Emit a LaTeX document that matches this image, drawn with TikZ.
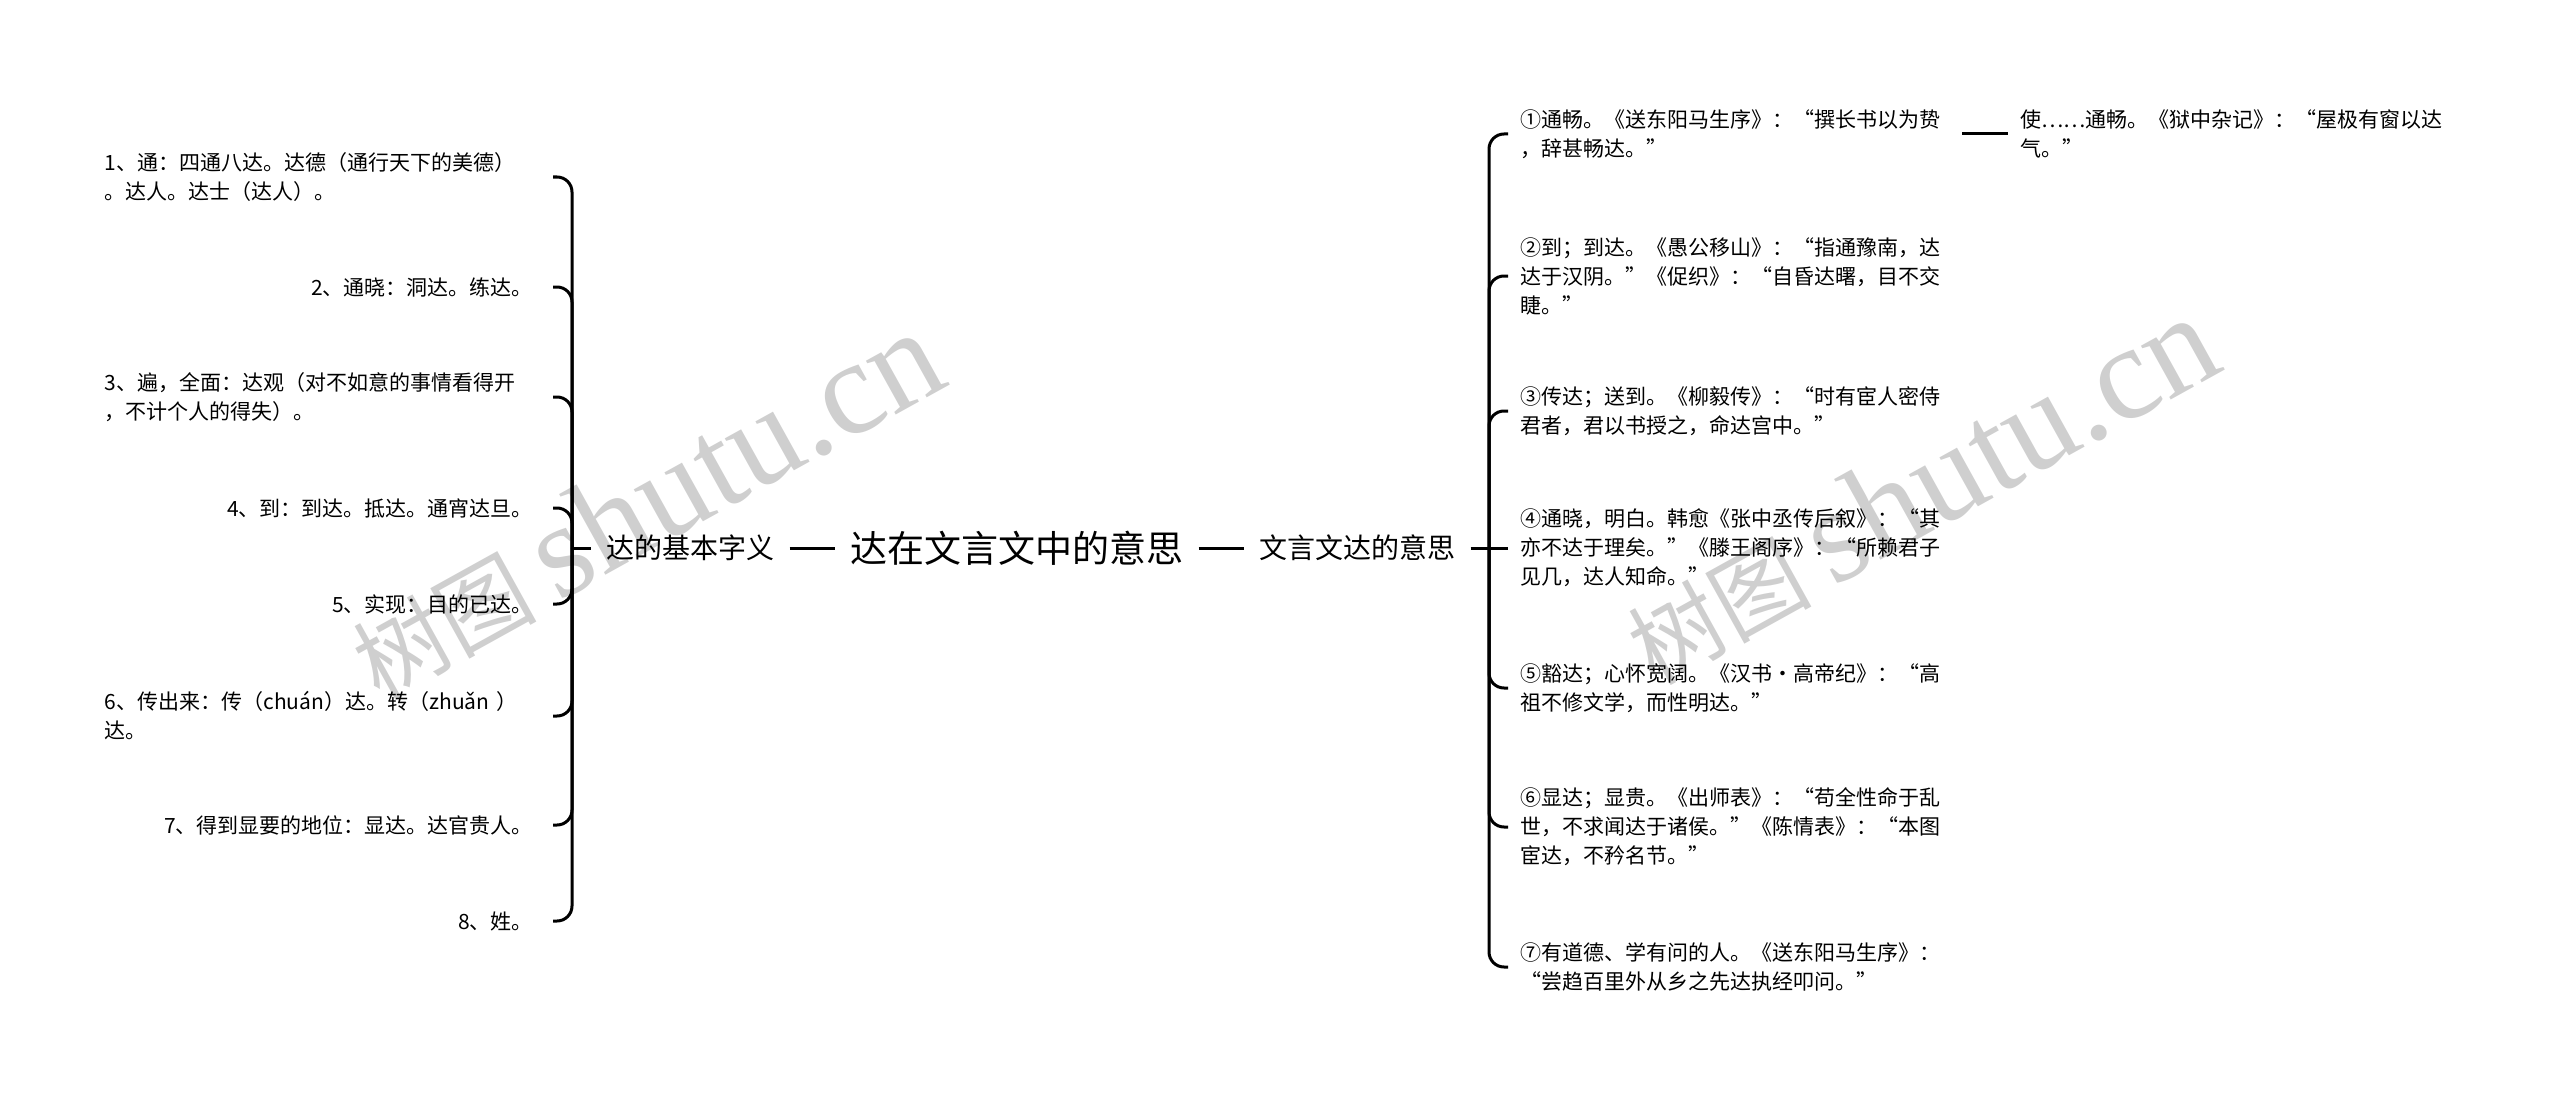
\documentclass[tikz,border=0pt]{standalone}
\usepackage{fontspec}
\setmainfont{Noto Sans CJK SC}
\newfontfamily\wmlat{Liberation Serif}
\begin{document}
\begin{tikzpicture}[x=1pt,y=-1pt,
  conn/.style={line width=3pt, rounded corners=15pt, black},
  lf/.style={font=\fontsize{21}{29}\selectfont, inner xsep=20pt, inner ysep=4pt, anchor=east},
  lfm/.style={lf, text width=428pt, align=left},
  rt/.style={font=\fontsize{21}{29}\selectfont, inner xsep=12pt, inner ysep=4pt, anchor=west, text width=430pt, align=left},
  mid/.style={font=\fontsize{28}{34}\selectfont, inner xsep=15pt},
  wm/.style={text=black!19, rotate=29, inner sep=0pt}
]
\useasboundingbox (0,0) rectangle (2560,1097);
% watermarks
\node[wm] (wm1) at (645,505) {\fontsize{92}{92}\selectfont 树图 {\wmlat\fontsize{134}{134}\selectfont shutu.cn}};
\node[wm] (wm2) at (1920,490) {\fontsize{92}{92}\selectfont 树图 {\wmlat\fontsize{134}{134}\selectfont shutu.cn}};

% left items
\node[lfm] (L1) at (553,177) {1、通：四通八达。达德（通行天下的美德）\\。达人。达士（达人）。};
\node[lf]  (L2) at (553,287) {2、通晓：洞达。练达。};
\node[lfm] (L3) at (553,397) {3、遍，全面：达观（对不如意的事情看得开\\，不计个人的得失）。};
\node[lf]  (L4) at (553,508) {4、到：到达。抵达。通宵达旦。};
\node[lf]  (L5) at (553,604) {5、实现：目的已达。};
\node[lfm] (L6) at (553,716) {6、传出来：传（chuán）达。转（zhuǎn ）\\达。};
\node[lf]  (L7) at (553,825) {7、得到显要的地位：显达。达官贵人。};
\node[lf]  (L8) at (553,921) {8、姓。};
\coordinate (Ls) at (572,548);
\foreach \n in {1,...,8} \draw[conn] (L\n.east) -| (Ls);

% centre row
\node[mid] (basic) at (690.5,548) {达的基本字义};
\node[font=\fontsize{37}{44}\selectfont, inner xsep=15pt] (root) at (1017,548) {达在文言文中的意思};
\node[mid] (wyw) at (1357.5,548) {文言文达的意思};
\draw[conn] (Ls) -- (basic.west);
\draw[conn] (basic.east) -- (root.west);
\draw[conn] (root.east) -- (wyw.west);

% right items
\node[rt] (R1) at (1508,134) {①通畅。《送东阳马生序》：“撰长书以为贽\\，辞甚畅达。”};
\node[rt] (R2) at (1508,276) {②到；到达。《愚公移山》：“指通豫南，达\\达于汉阴。”《促织》：“自昏达曙，目不交\\睫。”};
\node[rt] (R3) at (1508,411) {③传达；送到。《柳毅传》：“时有宦人密侍\\君者，君以书授之，命达宫中。”};
\node[rt] (R4) at (1508,548) {④通晓，明白。韩愈《张中丞传后叙》：“其\\亦不达于理矣。”《滕王阁序》：“所赖君子\\见几，达人知命。”};
\node[rt] (R5) at (1508,688) {⑤豁达；心怀宽阔。《汉书·高帝纪》：“高\\祖不修文学，而性明达。”};
\node[rt] (R6) at (1508,827) {⑥显达；显贵。《出师表》：“苟全性命于乱\\世，不求闻达于诸侯。”《陈情表》：“本图\\宦达，不矜名节。”};
\node[rt] (R7) at (1508,967) {⑦有道德、学有问的人。《送东阳马生序》：\\“尝趋百里外从乡之先达执经叩问。”};
\coordinate (Rs) at (1489,548);
\draw[conn] (wyw.east) -- (R4.west);
\foreach \n in {1,2,3,5,6,7} \draw[conn] (Rs) |- (R\n.west);

% far right
\node[rt] (F) at (2008,134) {使……通畅。《狱中杂记》：“屋极有窗以达\\气。”};
\draw[conn] (R1.east) -- (F.west);
\end{tikzpicture}
\end{document}
